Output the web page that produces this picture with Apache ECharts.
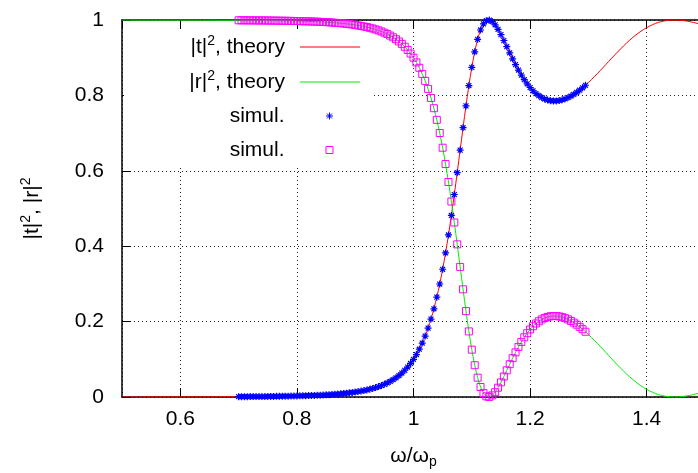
<!DOCTYPE html>
<html>
<head>
<meta charset="utf-8">
<script src="https://cdn.jsdelivr.net/npm/echarts@6/dist/echarts.min.js"></script>
<style>
  html, body { margin: 0; padding: 0; background: #fff; }
  #chart { width: 698px; height: 473px; }
</style>
</head>
<body>
<div id="chart"></div>
<script>
// simulation points (omega / omega_p)
const simX = [
  0.700,0.705,0.710,0.715,0.720,0.725,0.730,0.735,0.740,0.745,
  0.750,0.755,0.760,0.765,0.770,0.775,0.780,0.785,0.790,0.795,
  0.800,0.805,0.810,0.815,0.820,0.825,0.830,0.835,0.840,0.845,
  0.850,0.855,0.860,0.865,0.870,0.875,0.880,0.885,0.890,0.895,
  0.900,0.905,0.910,0.915,0.920,0.925,0.930,0.935,0.940,0.945,
  0.950,0.955,0.960,0.965,0.970,0.975,0.980,0.985,0.990,0.995,
  1.000,1.005,1.010,1.015,1.020,1.025,1.030,1.035,1.040,1.045,
  1.050,1.055,1.060,1.065,1.070,1.075,1.080,1.085,1.090,1.095,
  1.100,1.105,1.110,1.115,1.120,1.125,1.130,1.135,1.140,1.145,
  1.150,1.155,1.160,1.165,1.170,1.175,1.180,1.185,1.190,1.195,
  1.200,1.205,1.210,1.215,1.220,1.225,1.230,1.235,1.240,1.245,
  1.250,1.255,1.260,1.265,1.270,1.275,1.280,1.285,1.290,1.295
];
const simT = [
  0.0008,0.0008,0.0009,0.0009,0.0010,0.0010,0.0011,0.0012,0.0012,0.0013,
  0.0014,0.0015,0.0016,0.0017,0.0018,0.0020,0.0021,0.0022,0.0024,0.0026,
  0.0027,0.0030,0.0032,0.0034,0.0037,0.0039,0.0042,0.0046,0.0049,0.0053,
  0.0057,0.0062,0.0067,0.0073,0.0079,0.0085,0.0093,0.0101,0.0110,0.0120,
  0.0131,0.0144,0.0157,0.0172,0.0188,0.0207,0.0227,0.0250,0.0276,0.0305,
  0.0336,0.0373,0.0413,0.0459,0.0510,0.0569,0.0634,0.0709,0.0794,0.0890,
  0.1000,0.1125,0.1268,0.1430,0.1615,0.1827,0.2067,0.2340,0.2649,0.2997,
  0.3388,0.3821,0.4298,0.4815,0.5371,0.5951,0.6549,0.7144,0.7722,0.8260,
  0.8744,0.9157,0.9488,0.9735,0.9897,0.9982,0.9998,0.9958,0.9872,0.9753,
  0.9612,0.9456,0.9293,0.9130,0.8970,0.8816,0.8672,0.8538,0.8416,0.8307,
  0.8209,0.8123,0.8050,0.7991,0.7941,0.7904,0.7876,0.7859,0.7852,0.7853,
  0.7863,0.7882,0.7908,0.7941,0.7982,0.8029,0.8081,0.8139,0.8202,0.8269
];
const simR = [
  0.9992,0.9992,0.9991,0.9991,0.9990,0.9990,0.9989,0.9988,0.9988,0.9987,
  0.9986,0.9985,0.9984,0.9983,0.9982,0.9980,0.9979,0.9978,0.9976,0.9974,
  0.9973,0.9970,0.9968,0.9966,0.9963,0.9961,0.9958,0.9954,0.9951,0.9947,
  0.9943,0.9938,0.9933,0.9927,0.9921,0.9915,0.9907,0.9899,0.9890,0.9880,
  0.9869,0.9856,0.9843,0.9828,0.9812,0.9793,0.9773,0.9750,0.9724,0.9695,
  0.9664,0.9627,0.9587,0.9541,0.9490,0.9431,0.9366,0.9291,0.9206,0.9110,
  0.9000,0.8875,0.8732,0.8570,0.8385,0.8173,0.7933,0.7660,0.7351,0.7003,
  0.6612,0.6179,0.5702,0.5185,0.4629,0.4049,0.3451,0.2856,0.2278,0.1740,
  0.1256,0.0843,0.0512,0.0265,0.0103,0.0018,0.0002,0.0042,0.0128,0.0247,
  0.0388,0.0544,0.0707,0.0870,0.1030,0.1184,0.1328,0.1462,0.1584,0.1693,
  0.1791,0.1877,0.1950,0.2009,0.2059,0.2096,0.2124,0.2141,0.2148,0.2147,
  0.2137,0.2118,0.2092,0.2059,0.2018,0.1971,0.1919,0.1861,0.1798,0.1731
];

// theory curves
const thX = [
  0.50,0.55,0.60,0.65,
  0.70,0.71,0.72,0.73,0.74,0.75,0.76,0.77,0.78,0.79,
  0.80,0.81,0.82,0.83,0.84,0.85,0.86,0.87,0.88,0.89,
  0.90,0.91,0.92,0.93,0.94,0.95,0.96,0.97,0.98,0.99,
  1.00,1.01,1.02,1.03,1.04,1.05,1.06,1.07,1.08,1.09,
  1.10,1.11,1.12,1.13,1.14,1.15,1.16,1.17,1.18,1.19,
  1.20,1.21,1.22,1.23,1.24,1.25,1.26,1.27,1.28,1.29,
  1.30,1.31,1.32,1.33,1.34,1.35,1.36,1.37,1.38,1.39,
  1.40,1.41,1.42,1.43,1.44,1.45,1.46,1.47,1.48,1.49,1.50
];
const thT = [
  0.0001,0.0002,0.0003,0.0004,
  0.0008,0.0009,0.0010,0.0011,0.0012,0.0014,0.0016,0.0018,0.0021,0.0024,
  0.0027,0.0032,0.0037,0.0042,0.0049,0.0057,0.0067,0.0079,0.0093,0.0110,
  0.0131,0.0157,0.0188,0.0227,0.0276,0.0336,0.0413,0.0510,0.0634,0.0794,
  0.1000,0.1268,0.1615,0.2067,0.2649,0.3388,0.4298,0.5371,0.6549,0.7722,
  0.8744,0.9488,0.9897,0.9998,0.9872,0.9612,0.9293,0.8970,0.8672,0.8416,
  0.8209,0.8050,0.7941,0.7876,0.7852,0.7863,0.7908,0.7982,0.8081,0.8202,
  0.8341,0.8493,0.8653,0.8820,0.8988,0.9151,0.9308,0.9454,0.9586,0.9701,
  0.9798,0.9876,0.9935,0.9974,0.9995,1.0000,0.9990,0.9968,0.9936,0.9896,0.9851
];
const thR = [
  0.9999,0.9998,0.9997,0.9996,
  0.9992,0.9991,0.9990,0.9989,0.9988,0.9986,0.9984,0.9982,0.9979,0.9976,
  0.9973,0.9968,0.9963,0.9958,0.9951,0.9943,0.9933,0.9921,0.9907,0.9890,
  0.9869,0.9843,0.9812,0.9773,0.9724,0.9664,0.9587,0.9490,0.9366,0.9206,
  0.9000,0.8732,0.8385,0.7933,0.7351,0.6612,0.5702,0.4629,0.3451,0.2278,
  0.1256,0.0512,0.0103,0.0002,0.0128,0.0388,0.0707,0.1030,0.1328,0.1584,
  0.1791,0.1950,0.2059,0.2124,0.2148,0.2137,0.2092,0.2018,0.1919,0.1798,
  0.1659,0.1507,0.1347,0.1180,0.1012,0.0849,0.0692,0.0546,0.0414,0.0299,
  0.0202,0.0124,0.0065,0.0026,0.0005,0.0000,0.0010,0.0032,0.0064,0.0104,0.0149
];

const legendNames = ['tTheory', 'rTheory', 'tSim', 'rSim'];
const legendLabels = ['|t|{sup|2}, theory', '|r|{sup|2}, theory', 'simul.', 'simul.'];

const FONT = 'Liberation Sans, Arial, Helvetica, sans-serif';
const supStyle = { fontFamily: FONT, color: '#000', fontSize: 14, lineHeight: 14, padding: [0, 0, 12, 0] };
const zip = (xs, ys) => xs.map((x, i) => [x, ys[i]]);

const chart = echarts.init(document.getElementById('chart'), null, { renderer: 'canvas' });

// one legend per row so that texts are right aligned like gnuplot's key
const legendTops = [34, 69, 103, 137];
const legends = legendNames.map((n, i) => {
  const isLine = i < 2;
  return {
    data: isLine ? [{ name: n, icon: 'path://M0 0H60V1H0Z' }] : [n],
    orient: 'vertical',
    align: 'right',
    right: isLine ? 338 : 364.5,
    top: legendTops[i],
    padding: 0,
    itemWidth: isLine ? 60 : 7,
    itemHeight: isLine ? 14 : 7,
    selectedMode: false,
    formatter: () => legendLabels[i],
    itemStyle: { borderWidth: isLine ? 0 : 1 },
    textStyle: {
      fontFamily: FONT, fontSize: 21, color: '#000', lineHeight: 26,
      padding: [0, isLine ? 10 : 36.5, 0, 0],
      rich: { sup: supStyle }
    }
  };
});

const gridLine = { show: true, lineStyle: { color: '#222', width: 1, type: [1, 3] } };
const border = { show: true, onZero: false, lineStyle: { color: '#000', width: 1.5 } };
const tick = { show: true, inside: true, length: 9, lineStyle: { color: '#000', width: 1 } };

chart.setOption({
  animation: false,
  backgroundColor: '#fff',
  grid: { left: 122, top: 20, right: -7, bottom: 76, outerBoundsMode: 'none', containLabel: false },
  legend: legends,
  graphic: [{
    type: 'rect', silent: true, z: 1,
    shape: { x: 124, y: 30, width: 249, height: 137 },
    style: { fill: '#fff' }
  }],
  xAxis: [{
    type: 'value', position: 'bottom', min: 0.5, max: 1.5, splitNumber: 5,
    axisLine: border, axisTick: tick, splitLine: gridLine,
    axisLabel: {
      show: true, margin: 12, fontFamily: FONT, fontSize: 21, color: '#000',
      showMinLabel: false, showMaxLabel: false
    },
    name: 'ω/ω{sub|p}', nameLocation: 'middle', nameGap: 46,
    nameTextStyle: {
      fontFamily: FONT, fontSize: 21, color: '#000', lineHeight: 26,
      rich: { sub: { fontFamily: FONT, color: '#000', fontSize: 14, lineHeight: 14, padding: [12, 0, 0, 0] } }
    }
  }, {
    type: 'value', position: 'top', min: 0.5, max: 1.5, splitNumber: 5,
    axisLine: border, axisTick: tick, splitLine: { show: false },
    axisLabel: { show: false }
  }],
  yAxis: [{
    type: 'value', min: 0, max: 1, interval: 0.2,
    axisLine: border, axisTick: tick, splitLine: gridLine,
    axisLabel: { show: true, margin: 18, fontFamily: FONT, fontSize: 21, color: '#000' },
    name: '|t|{sup|2}, |r|{sup|2}', nameLocation: 'middle', nameGap: 77,
    nameTextStyle: {
      fontFamily: FONT, fontSize: 21, color: '#000', lineHeight: 26,
      rich: { sup: supStyle }
    }
  }],
  series: [{
    name: 'tTheory', type: 'line', data: zip(thX, thT),
    symbol: 'none', showSymbol: false, smooth: 0.3, z: 3,
    lineStyle: { color: '#ff0000', width: 1 }, itemStyle: { color: '#ff0000' }
  }, {
    name: 'rTheory', type: 'line', data: zip(thX, thR),
    symbol: 'none', showSymbol: false, smooth: 0.3, z: 3,
    lineStyle: { color: '#00ee00', width: 1 }, itemStyle: { color: '#00ee00' }
  }, {
    name: 'tSim', type: 'scatter', data: zip(simX, simT), z: 4,
    symbol: 'path://M0 5L10 5M5 0L5 10M1.5 1.5L8.5 8.5M1.5 8.5L8.5 1.5',
    symbolSize: 7,
    itemStyle: { color: '#0000ff', borderColor: '#0000ff', borderWidth: 1.2, opacity: 1 }
  }, {
    name: 'rSim', type: 'scatter', data: zip(simX, simR), z: 5,
    symbol: 'rect', symbolSize: 7,
    itemStyle: { color: 'rgba(255,255,255,0)', borderColor: '#ff00ff', borderWidth: 1, opacity: 1 }
  }]
});
</script>
</body>
</html>
